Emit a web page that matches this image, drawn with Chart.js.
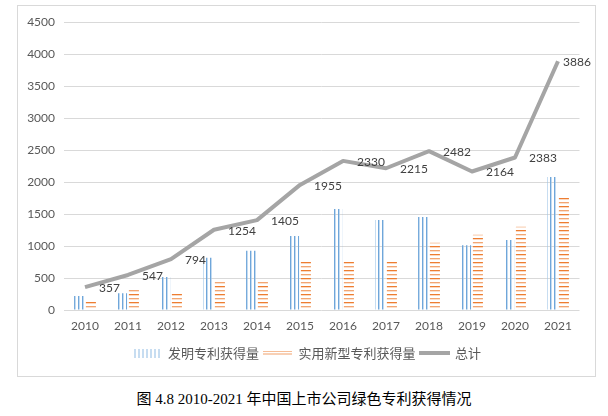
<!DOCTYPE html>
<html><head><meta charset="utf-8">
<script src="https://cdn.jsdelivr.net/npm/chart.js@4"></script>
<style>
html,body{margin:0;padding:0;background:#fff;width:608px;height:416px;overflow:hidden}
#frame{position:absolute;left:17px;top:5px;width:577px;height:370px;border:1px solid #d9d9d9}
#wrap{position:absolute;left:18px;top:6px;width:577px;height:370px}
#cap{position:absolute;left:0;width:608px;top:390px;text-align:center;font:15px "Liberation Serif","Noto Sans CJK SC",serif;color:#000;line-height:18px}
</style></head>
<body>
<div id="frame"></div>
<div id="wrap"><canvas id="c"></canvas></div>
<div id="cap">图 4.8 2010-2021 年中国上市公司绿色专利获得情况</div>
<script>
const categories = ['2010','2011','2012','2013','2014','2015','2016','2017','2018','2019','2020','2021'];
const inventionPatents = [219, 260, 515, 817, 927, 1156, 1578, 1406, 1453, 1010, 1094, 2078];
const utilityPatents = [125, 320, 260, 458, 458, 781, 770, 781, 1052, 1177, 1302, 1771];
const totals = [357, 547, 794, 1254, 1405, 1955, 2330, 2215, 2482, 2164, 2383, 3886];
const seriesNames = ['发明专利获得量', '实用新型专利获得量', '总计'];

function makeCanvas(w, h, draw) {
  const c = document.createElement('canvas');
  c.width = w; c.height = h;
  draw(c.getContext('2d'));
  return c;
}
const ctx0 = document.getElementById('c').getContext('2d');
const bluePat = ctx0.createPattern(makeCanvas(4, 1, g => {
  g.fillStyle = '#6fa6da'; g.fillRect(0, 0, 1, 1);
  g.fillStyle = 'rgba(157,195,230,0.6)'; g.fillRect(1, 0, 1, 1);
}), 'repeat');
const orangePat = ctx0.createPattern(makeCanvas(1, 8, g => {
  g.fillStyle = '#ed7d31'; g.fillRect(0, 0, 1, 1);
  g.fillStyle = 'rgba(237,125,49,0.3)'; g.fillRect(0, 1, 1, 1);
  g.fillStyle = '#f2a673'; g.fillRect(0, 4, 1, 1);
  g.fillStyle = 'rgba(244,177,131,0.4)'; g.fillRect(0, 5, 1, 1);
}), 'repeat');

const swatches = [
  makeCanvas(27, 9, g => { g.fillStyle = '#8fbbe3'; for (let x = 1; x < 27; x += 4) g.fillRect(x, 0, 1, 9); }),
  makeCanvas(29, 5, g => { g.fillStyle = '#ed7d31'; g.fillRect(0, 0, 29, 1); g.fillStyle = '#f0a06a'; g.fillRect(0, 3, 29, 1); }),
  makeCanvas(31, 4, g => { g.fillStyle = '#a5a5a5'; g.fillRect(0, 0, 31, 4); })
];

const lineLabels = {
  id: 'lineLabels',
  afterLayout(chart) {
    if (chart.legend) { chart.legend.left += 8; chart.legend.right += 8; }
  },
  afterDatasetsDraw(chart) {
    const meta = chart.getDatasetMeta(2);
    const ctx = chart.ctx;
    ctx.save();
    ctx.font = '12px Lato';
    ctx.fillStyle = '#404040';
    ctx.textAlign = 'left';
    ctx.textBaseline = 'middle';
    meta.data.forEach((pt, i) => {
      const last = i === meta.data.length - 1;
      ctx.fillText(String(totals[i]), pt.x + (last ? 5 : 14), pt.y + 1);
    });
    ctx.restore();
  }
};

new Chart(document.getElementById('c'), {
  data: {
    labels: categories,
    datasets: [
      { type: 'bar', label: seriesNames[0], data: inventionPatents, backgroundColor: bluePat, borderWidth: 0, order: 1,
        categoryPercentage: 0.55, barPercentage: 0.85 },
      { type: 'bar', label: seriesNames[1], data: utilityPatents, backgroundColor: orangePat, borderWidth: 0, order: 1,
        categoryPercentage: 0.55, barPercentage: 0.85 },
      { type: 'line', label: seriesNames[2], data: totals, borderColor: '#a5a5a5', borderWidth: 4, pointRadius: 0,
        tension: 0, order: 0, borderJoinStyle: 'round', borderCapStyle: 'butt' }
    ]
  },
  options: {
    responsive: true,
    maintainAspectRatio: false,
    animation: false,
    devicePixelRatio: 1,
    layout: { padding: { left: 0, right: 15.5, top: 16, bottom: 6.5 } },
    scales: {
      x: {
        grid: { display: false, drawTicks: false },
        border: { display: false },
        ticks: { color: '#595959', font: { family: 'Lato', size: 12 }, padding: 9 },
        afterFit: s => { s.height = 32.5; }
      },
      y: {
        min: 0, max: 4500,
        grid: { color: '#d9d9d9', drawTicks: false },
        border: { display: false },
        ticks: { stepSize: 500, color: '#595959', font: { family: 'Lato', size: 12 }, padding: 8.5,
          callback: v => String(v) },
        afterFit: s => { s.width = 45.5; }
      }
    },
    plugins: {
      tooltip: { enabled: false },
      legend: {
        position: 'bottom',
        labels: {
          usePointStyle: true,
          pointStyleWidth: 29,
          padding: 4,
          color: '#595959',
          font: { family: 'Noto Sans CJK SC', size: 13 },
          generateLabels: chart => chart.data.datasets.map((ds, i) => ({
            text: ds.label, pointStyle: swatches[i], fillStyle: 'transparent', strokeStyle: 'transparent',
            lineWidth: 0, hidden: false, datasetIndex: i, fontColor: '#595959'
          }))
        }
      }
    }
  },
  plugins: [lineLabels]
});
</script>
</body></html>
